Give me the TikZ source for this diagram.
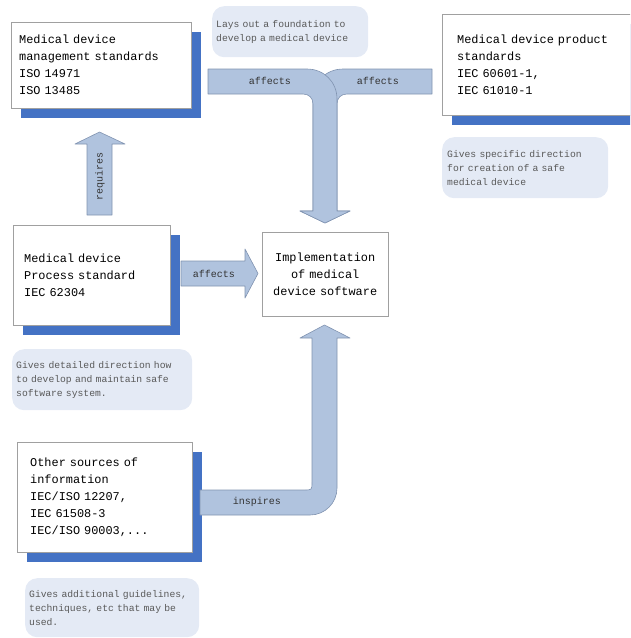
\documentclass[tikz,border=0pt]{standalone}
\usepackage{fontspec}
\setmonofont{Liberation Mono}
\usetikzlibrary{calc,shadows}

\definecolor{shadowblue}{HTML}{4472C4}
\definecolor{arrowfill}{HTML}{B0C3DE}
\definecolor{arrowline}{HTML}{8093B0}
\definecolor{notefill}{HTML}{E4EAF5}
\definecolor{boxgray}{HTML}{A0A0A0}
\definecolor{notetext}{HTML}{595959}

\tikzset{
  stdbox/.style={draw=boxgray, fill=white, anchor=north west, align=left,
    font=\ttfamily\fontsize{11.9}{17}\selectfont,
    drop shadow={shadow xshift=10pt, shadow yshift=-10pt, fill=shadowblue, opacity=1}},
  note/.style={fill=notefill, rounded corners=12pt, anchor=north west, align=left,
    inner xsep=4pt, text=notetext, font=\ttfamily\fontsize{9.7}{14}\selectfont},
  blockarrow/.style={draw=arrowline, fill=arrowfill, line width=0.6pt, line join=round},
  arrowlabel/.style={text=black!80, font=\ttfamily\fontsize{10}{12}\selectfont}
}

\begin{document}
\begin{tikzpicture}[x=1pt, y=-1pt]
  \useasboundingbox (0,0) rectangle (630,638);
  \clip (0,0) rectangle (630,638);

  \node[stdbox, inner xsep=8pt, text width=164pt, minimum height=86pt] (mgmt) at (11,22)
    {Medical device\\management standards\\ISO 14971\\ISO 13485};
  \node[stdbox, inner xsep=15pt, text width=168pt, minimum height=101pt] (product) at (442,14)
    {Medical device product\\standards\\IEC 60601-1,\\IEC 61010-1};
  \node[stdbox, inner xsep=11pt, text width=135pt, minimum height=100pt] (process) at (13,225)
    {Medical device\\Process standard\\IEC 62304};
  \node[stdbox, inner xsep=13pt, text width=149pt, minimum height=110pt] (other) at (17,442)
    {Other sources of\\information\\IEC/ISO 12207,\\IEC 61508-3\\IEC/ISO 90003,...};
  \node[draw=boxgray, fill=white, anchor=north west, align=center, text width=110pt,
    minimum width=126pt, minimum height=84pt, font=\ttfamily\fontsize{11.9}{17}\selectfont]
    (impl) at (262,232) {Implementation\\of medical\\device software};

  \node[note, text width=148pt, minimum height=51pt] (foundation) at (212,6)
    {Lays out a foundation to\\develop a medical device};
  \node[note, inner xsep=5pt, text width=156pt, minimum height=61pt] (specific) at (442,137)
    {Gives specific direction\\for creation of a safe\\medical device};
  \node[note, text width=172pt, minimum height=61pt] (detailed) at (12,349)
    {Gives detailed direction how\\to develop and maintain safe\\software system.};
  \node[note, text width=166pt, minimum height=59pt] (additional) at (25,578)
    {Gives additional guidelines,\\techniques, etc that may be\\used.};

  \draw[blockarrow] (87,215) -- (87,144) -- (75,144) -- (99.5,132) -- (125,144) -- (112,144) -- (112,215) -- cycle;
  \draw[blockarrow] (181,261) -- (245,261) -- (245,249) -- (258,273.5) -- (245,298) -- (245,286) -- (181,286) -- cycle;
  \draw[blockarrow] (432,69) -- (343,69) .. controls (326,69) and (313,82) .. (313,99) -- (313,211)
    -- (300,211) -- (325,223) -- (350,211) -- (337,211) -- (337,104)
    .. controls (337,98) and (341,94) .. (347,94) -- (432,94) -- cycle;
  \draw[blockarrow] (208,69) -- (307,69) .. controls (324,69) and (337,82) .. (337,99) -- (337,211)
    -- (350,211) -- (325,223) -- (300,211) -- (313,211) -- (313,104)
    .. controls (313,98) and (309,94) .. (303,94) -- (208,94) -- cycle;
  \draw[blockarrow] (200,490) -- (304,490) .. controls (312,490) .. (312,482) -- (312,338)
    -- (300,338) -- (324.5,325) -- (350,338) -- (337,338) -- (337,488)
    .. controls (337,503) and (325,515) .. (310,515) -- (200,515) -- cycle;

  \node[arrowlabel, rotate=90] (requires) at (100,176) {requires};
  \node[arrowlabel] (affectsA) at (270,81) {affects};
  \node[arrowlabel] (affectsB) at (378,81) {affects};
  \node[arrowlabel] (affectsC) at (214,274) {affects};
  \node[arrowlabel] (inspires) at (257,502) {inspires};
\end{tikzpicture}
\end{document}
